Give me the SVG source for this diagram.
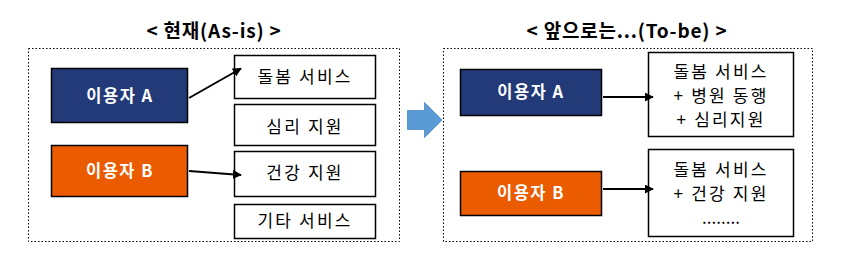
<svg xmlns="http://www.w3.org/2000/svg" width="849" height="273" viewBox="0 0 849 273">
<style>
.title{font-family:"Noto Sans CJK KR","Noto Sans",sans-serif;font-size:19px;font-weight:bold;fill:#000;text-anchor:middle;letter-spacing:0.8px}
.frame{fill:none;stroke:#000;stroke-width:1;stroke-dasharray:1.5 2}
.user{stroke:#000;stroke-width:1.5}
.ulabel{font-family:"Noto Sans CJK KR","Noto Sans",sans-serif;font-size:16.5px;font-weight:bold;fill:#fff;text-anchor:middle;letter-spacing:1.5px}
.svc{fill:#fff;stroke:#000;stroke-width:1.5}
.stext{font-family:"Noto Sans CJK KR","Noto Sans",sans-serif;font-size:17px;fill:#000;text-anchor:middle;letter-spacing:2.2px}
.conn{stroke:#000;stroke-width:2;fill:none}
</style>
<defs>
<marker id="ah" viewBox="0 0 10 10" refX="9" refY="5" markerWidth="4.5" markerHeight="4.5" orient="auto" markerUnits="strokeWidth">
<path d="M0,0 L10,5 L0,10 z" fill="#000"/>
</marker>
</defs>
<rect width="849" height="273" fill="#fff"/>
<g id="as-is">
<text class="title" x="214" y="38">&lt; 현재(As-is) &gt;</text>
<rect class="frame" x="28.5" y="48.5" width="371" height="193"/>
</g>
<g id="to-be">
<text class="title" x="627" y="38">&lt; 앞으로는...(To-be) &gt;</text>
<rect class="frame" x="443.5" y="48.5" width="369" height="193"/>
</g>
<g id="userA-left"><rect class="user" x="51.5" y="68.5" width="136" height="54" fill="#223A78"/><text class="ulabel" x="120" y="102">이용자 A</text></g>
<g id="userB-left"><rect class="user" x="51.5" y="145.5" width="136" height="51" fill="#EB5B00"/><text class="ulabel" x="120" y="177">이용자 B</text></g>
<g id="svc-care"><rect class="svc" x="234.5" y="55.5" width="141" height="43"/><text class="stext" x="305" y="83">돌봄 서비스</text></g>
<g id="svc-psych"><rect class="svc" x="234.5" y="104.5" width="141" height="41"/><text class="stext" x="305" y="133">심리 지원</text></g>
<g id="svc-health"><rect class="svc" x="234.5" y="151.5" width="141" height="45"/><text class="stext" x="305" y="179">건강 지원</text></g>
<g id="svc-etc"><rect class="svc" x="234.5" y="204.5" width="141" height="34"/><text class="stext" x="305" y="227">기타 서비스</text></g>
<g id="transition-arrow"><path d="M407.5,110.5 H424.5 V102.5 L442,120 L424.5,137.5 V129.5 H407.5 Z" fill="#5B9BD5" stroke="#4A86C0" stroke-width="0.8"/></g>
<g id="userA-right"><rect class="user" x="460.5" y="69.5" width="141" height="46" fill="#223A78"/><text class="ulabel" x="531" y="98">이용자 A</text></g>
<g id="userB-right"><rect class="user" x="460.5" y="171.5" width="141" height="44" fill="#EB5B00"/><text class="ulabel" x="531" y="199">이용자 B</text></g>
<g id="svc-right-A"><rect class="svc" x="648.5" y="52.5" width="145" height="84"/>
<text class="stext" x="721" y="78">돌봄 서비스</text>
<text class="stext" x="721" y="102">+ 병원 동행</text>
<text class="stext" x="721" y="126">+ 심리지원</text></g>
<g id="svc-right-B"><rect class="svc" x="648.5" y="149.5" width="145" height="87"/>
<text class="stext" x="721" y="176">돌봄 서비스</text>
<text class="stext" x="721" y="200">+ 건강 지원</text>
<text class="stext" x="721" y="224" style="letter-spacing:0">........</text></g>
<g id="connectors">
<line class="conn" x1="189" y1="98" x2="241" y2="68.5" marker-end="url(#ah)"/>
<line class="conn" x1="189" y1="171" x2="241" y2="175" marker-end="url(#ah)"/>
<line class="conn" x1="603" y1="97" x2="653" y2="97" marker-end="url(#ah)"/>
<line class="conn" x1="603" y1="189" x2="653" y2="189" marker-end="url(#ah)"/>
</g>
</svg>
